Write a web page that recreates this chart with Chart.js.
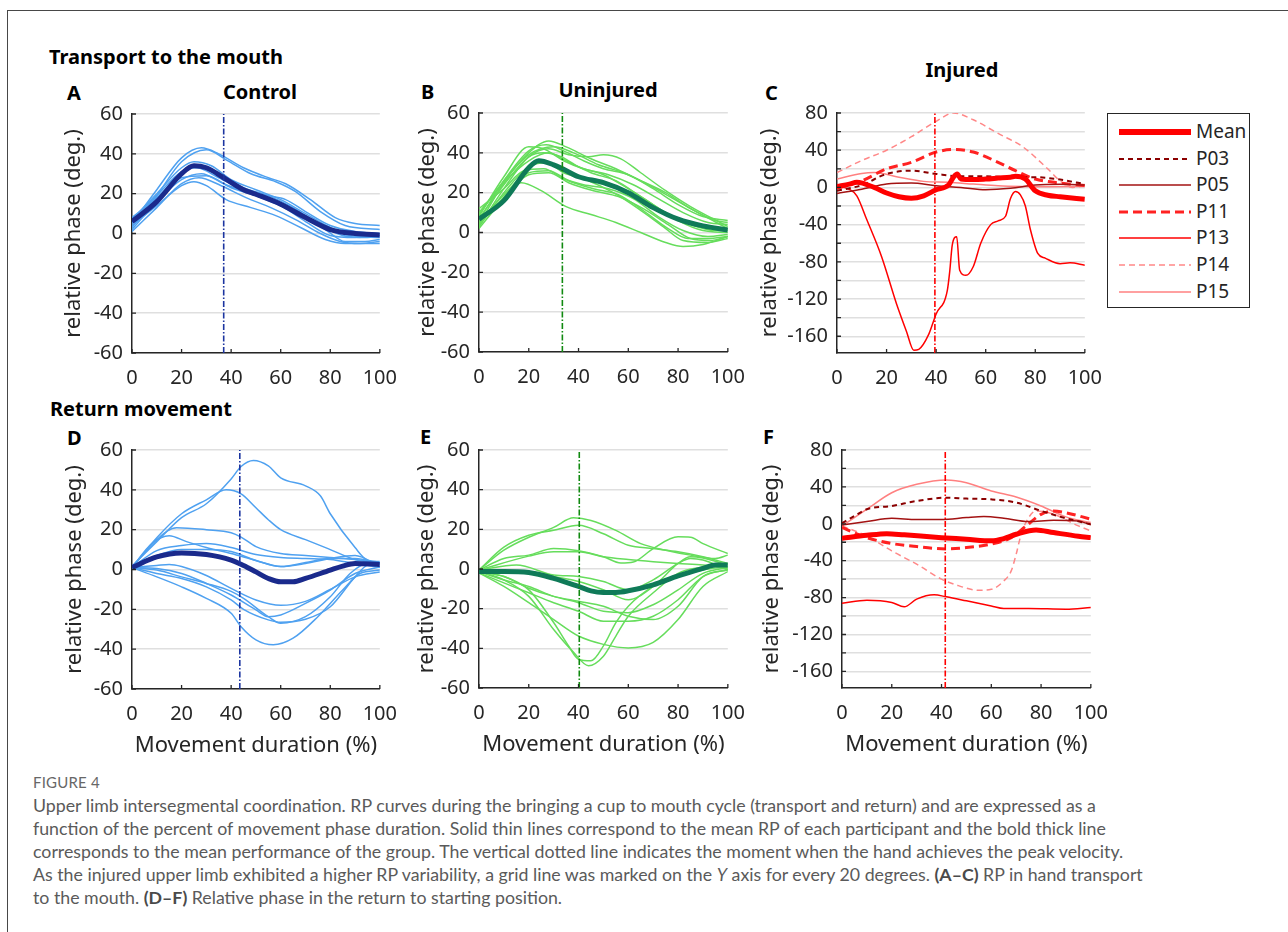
<!DOCTYPE html>
<html>
<head>
<meta charset="utf-8">
<script src="https://cdn.jsdelivr.net/npm/chart.js@4.4.1/dist/chart.umd.min.js"></script>
<style>
  body { margin: 0; width: 1288px; height: 932px; overflow: hidden; position: relative; background: #fff; font-family: "Noto Sans", "DejaVu Sans", sans-serif; }
  .frame { position: absolute; left: 7px; top: 10px; width: 1400px; height: 1000px; border-left: 1.5px solid #474747; border-top: 1.5px solid #474747; }
  canvas { position: absolute; }
  .bold { position: absolute; font-weight: bold; font-size: 20px; color: #000; white-space: nowrap; line-height: 24px; transform: translateY(-50%); }
  .center { transform: translate(-50%, -50%); }
  #legend { position: absolute; left: 1107px; top: 113px; width: 141px; height: 193px; border: 1.5px solid #262626; background: #fff; }
  #legend .row { position: absolute; left: 0; height: 24px; width: 141px; }
  #legend svg { position: absolute; left: 10px; top: 0; }
  #legend span { position: absolute; left: 88px; top: -1px; font-size: 19px; line-height: 24px; color: #262626; }
  #figno { position: absolute; left: 33px; top: 774px; font-family: Lato, "Open Sans", sans-serif; font-size: 15px; line-height: 16px; color: #676767; letter-spacing: 0.2px; }
  #caption { position: absolute; left: 33px; top: 794px; font-family: Lato, "Open Sans", sans-serif; font-size: 17.75px; line-height: 23.1px; color: #5a5a5a; white-space: nowrap; }
  #caption b { color: #4a4a4a; }
</style>
</head>
<body>
<div class="frame"></div>

<div class="bold" style="left:49px;top:57px;">Transport to the mouth</div>
<div class="bold" style="left:67px;top:93px;">A</div>
<div class="bold center" style="left:260px;top:92px;">Control</div>
<div class="bold" style="left:421px;top:92px;">B</div>
<div class="bold center" style="left:608px;top:90px;">Uninjured</div>
<div class="bold center" style="left:962px;top:70px;">Injured</div>
<div class="bold" style="left:765px;top:93px;">C</div>
<div class="bold" style="left:50px;top:409px;">Return movement</div>
<div class="bold" style="left:67px;top:438px;">D</div>
<div class="bold" style="left:420px;top:437px;">E</div>
<div class="bold" style="left:763px;top:437px;">F</div>

<canvas id="cA"></canvas>
<canvas id="cB"></canvas>
<canvas id="cC"></canvas>
<canvas id="cD"></canvas>
<canvas id="cE"></canvas>
<canvas id="cF"></canvas>

<div id="legend"></div>

<div id="figno">FIGURE 4</div>
<div id="caption">
<div>Upper limb intersegmental coordination. RP curves during the bringing a cup to mouth cycle (transport and return) and are expressed as a</div>
<div>function of the percent of movement phase duration. Solid thin lines correspond to the mean RP of each participant and the bold thick line</div>
<div>corresponds to the mean performance of the group. The vertical dotted line indicates the moment when the hand achieves the peak velocity.</div>
<div>As the injured upper limb exhibited a higher RP variability, a grid line was marked on the <i>Y</i> axis for every 20 degrees. <b>(A–C)</b> RP in hand transport</div>
<div>to the mouth. <b>(D–F)</b> Relative phase in the return to starting position.</div>
</div>

<script>
// ---- data: [movement %, relative phase deg] pairs ----
const xTicks = [0, 20, 40, 60, 80, 100];
const peakVelocity = [37, 33.5, 39.5, 43.5, 40.3, 41.5]; // A..F, x of vertical line

const controlTransportMean = [[0,6],[10,16],[20,30],[25,34],[30,33],[37,28],[45,22],[50,19.7],[60,14.7],[70,8],[80,2],[90,0],[100,-0.7]];
const controlTransport = [
  [[0,5],[10,22],[20,38],[28,43],[35,40],[45,33],[55,28],[62,25],[72,17],[82,8],[90,5],[100,4]],
  [[0,3],[10,19],[20,36],[30,42],[38,37],[48,30],[58,26],[66,21],[76,11],[86,4],[100,2]],
  [[0,7],[10,20],[20,33],[25,36],[32,34],[40,27],[50,22],[60,17],[70,10],[80,3],[88,-1],[100,-2]],
  [[0,8],[10,18],[20,30],[27,34],[35,30],[45,23],[55,19],[65,13],[75,5],[85,-1],[95,-2],[100,-1]],
  [[0,2],[10,16],[20,27],[28,30],[37,25],[48,20],[58,15],[68,9],[78,2],[86,-4],[94,-4],[100,-3]],
  [[0,1],[10,13],[20,25],[27,28],[36,24],[46,18],[56,13],[66,7],[76,0],[84,-4],[92,-5],[100,-4]],
  [[0,4],[10,14],[20,24],[25,26],[30,24],[38,17],[48,13],[58,9],[68,3],[78,-3],[86,-5],[100,-5]],
  [[0,6],[10,17],[20,28],[30,29],[40,23],[50,19],[60,14],[70,6],[80,-1],[90,-2],[100,-1]],
  [[0,7],[10,19],[20,31],[26,33],[35,28],[45,22],[55,19],[62,17],[70,11],[80,4],[90,1],[100,0]]
];

const uninjuredTransportMean = [[0,6.7],[10,16],[20,32.5],[24,36],[30,34],[34,31.7],[40,28],[50,25],[60,20],[70,12.5],[80,6.7],[90,3.3],[100,1.3]];
const uninjuredTransport = [
  [[0,4],[10,25],[20,40],[28,46],[35,43],[45,37],[55,32],[65,26],[75,20],[85,12],[95,6],[100,5]],
  [[0,6],[10,26],[20,41],[27,44],[34,41],[42,36],[50,32],[60,29],[70,22],[80,14],[90,8],[100,6]],
  [[0,3],[10,22],[20,38],[28,42],[36,39],[44,38],[50,39],[57,37],[65,30],[75,21],[85,13],[100,3]],
  [[0,8],[10,28],[20,43],[26,42],[34,36],[42,32],[52,29],[62,24],[72,17],[82,10],[92,5],[100,4]],
  [[0,10],[10,25],[20,36],[28,40],[35,36],[45,30],[55,26],[65,18],[75,10],[85,4],[95,1],[100,1]],
  [[0,12],[10,22],[18,31],[26,32],[34,27],[42,24],[52,22],[62,17],[72,8],[82,1],[92,-2],[100,-1]],
  [[0,5],[10,19],[20,30],[28,31],[36,26],[46,22],[56,19],[66,11],[76,2],[84,-3],[92,-3],[100,-2]],
  [[0,2],[10,17],[20,29],[28,30],[36,25],[46,21],[56,18],[66,12],[76,4],[85,-3],[93,-4],[100,-2]],
  [[0,4],[8,15],[17,25],[25,21],[35,13],[45,9],[55,5],[65,0],[75,-5],[82,-7],[90,-6],[100,-2]],
  [[0,7],[10,24],[20,38],[26,40],[33,38],[40,33],[50,29],[60,22],[70,14],[80,6],[90,1],[100,0]],
  [[0,9],[10,26],[20,39],[30,43],[38,40],[48,34],[58,30],[68,24],[78,17],[88,10],[100,2]],
  [[0,3],[10,20],[20,33],[27,35],[34,30],[44,26],[54,20],[64,12],[74,3],[82,-4],[92,-5],[100,-3]]
];

// injured: Mean, P03, P05, P11, P13, P14, P15
const injuredLabels = ['Mean', 'P03', 'P05', 'P11', 'P13', 'P14', 'P15'];
const injuredTransport = [
  [[0,1],[5,3.6],[8,5.5],[15,0],[20,-6],[25,-10],[30,-11.6],[35,-9],[40,-2.5],[45,2.5],[47,11],[48.5,14.5],[50,9],[55,8.4],[60,9],[65,10],[70,11],[72,12],[76,9],[80,-3.6],[85,-8.4],[90,-10],[100,-12.7]],
  [[0,-3.6],[10,2.5],[20,14.5],[30,18],[40,14.5],[50,12],[60,12],[70,11],[80,11],[90,8.4],[100,3.6]],
  [[0,-6.5],[10,-2],[20,3.6],[30,4.7],[40,1.8],[50,0],[60,-2.5],[70,-1],[80,2.5],[90,3.3],[100,2.5]],
  [[0,-1],[10,7],[20,20],[30,27],[40,38],[47,40.7],[55,38],[65,27],[72,18],[80,9],[90,4.7],[100,2]],
  [[0,1],[5,-2],[8,-9],[12,-34.5],[18,-74.5],[24,-125],[28,-154.5],[31,-175],[33,-174],[37,-158],[40,-136],[44.5,-111],[45.5,-90],[46.5,-62],[48.3,-53],[49.5,-89],[52,-94.5],[55,-85],[58,-60],[62,-40],[65,-36],[68,-31],[70,-12],[72,-4.5],[74,-8],[76,-20],[78,-45],[81,-71],[84,-76],[90,-82],[94,-81],[100,-83.6]],
  [[0,16],[10,29],[20,40],[30,54.5],[40,71],[47,80],[55,72.7],[65,58],[75,43.6],[85,20],[90,7],[95,0],[100,2]],
  [[0,9],[10,15],[15,16],[25,11],[35,6.5],[45,5.5],[55,3.6],[65,1.8],[75,1],[85,0.7],[100,1]]
];

const controlReturnMean = [[0,1],[10,6.3],[20,8.3],[30,7.5],[40,4.7],[45,2],[50,-1.2],[55,-4.5],[60,-6.2],[65,-6.2],[70,-4.5],[80,-0.3],[85,1.7],[90,3],[100,2.5]];
const controlReturn = [
  [[0,1.7],[10,14],[20,26],[30,33],[40,45.5],[44,51.7],[49,54.7],[55,52],[60,46],[70,42],[76,37],[80,28],[90,11],[95,4.7],[100,4]],
  [[0,1],[10,16],[20,28],[30,35],[38,40],[44,38],[50,31],[55,25],[60,20],[70,15],[80,10],[90,5],[100,3.5]],
  [[0,1],[10,15],[18,21],[30,20],[40,18.5],[44,16.3],[50,11.5],[60,8],[70,7],[80,6],[90,5],[100,3]],
  [[0,1],[8,13],[15,17],[22,14],[30,11],[40,8],[50,4.5],[60,1.5],[70,3],[80,5.5],[90,7],[100,1.5]],
  [[0,1],[10,9.5],[20,12],[30,13],[40,11],[50,7.5],[60,6],[70,5.5],[80,5],[90,3],[100,1]],
  [[0,1.5],[10,7],[20,10],[30,10],[40,9],[50,4.5],[60,1.5],[70,3.5],[80,5.5],[90,5.5],[100,3]],
  [[0,1],[10,2],[15,2.5],[20,1.5],[30,-3],[40,-9.5],[50,-15.3],[60,-18],[70,-16],[80,-10],[90,-3.7],[100,-1.2]],
  [[0,1],[10,0.5],[20,-2],[30,-7],[40,-12.8],[50,-20.3],[55,-23.7],[60,-22.8],[70,-17],[80,-10.3],[90,-2],[100,1.3]],
  [[0,1],[10,-0.3],[20,-3.7],[30,-7],[40,-11],[45,-14.5],[55,-23.7],[60,-27],[70,-23.7],[80,-13.7],[88,-2],[95,3],[100,2.5]],
  [[0,1],[10,-2],[20,-4.5],[30,-8.7],[40,-15.3],[45,-20],[55,-25.3],[60,-26.5],[70,-25],[80,-18.7],[90,-3.7],[95,2.2],[100,3]],
  [[0,1],[10,-3.7],[20,-8.7],[30,-14.5],[40,-22],[44,-28.7],[50,-35.3],[57,-37.8],[65,-34.5],[75,-23.7],[85,-10.3],[92,-2],[100,-0.3]]
];

const uninjuredReturnMean = [[0,-1.3],[10,-1.3],[20,-1.8],[30,-4.7],[40,-8.8],[45,-11],[50,-11.8],[55,-11.8],[60,-11],[70,-8],[80,-3.5],[90,0.3],[95,2],[100,2]];
const uninjuredReturn = [
  [[0,-0.5],[10,9.5],[20,16],[30,21],[38,25.8],[45,24.5],[55,19.5],[65,12.8],[75,9.5],[85,7],[95,5.3],[100,7]],
  [[0,-0.5],[10,11],[20,17],[30,19.5],[40,22],[50,17.8],[60,12],[70,10.3],[80,8.7],[90,6.2],[100,2.8]],
  [[0,-0.5],[10,5.3],[20,7],[30,10.3],[40,9.2],[50,6.2],[57,3],[62,3.5],[70,10.3],[80,16.2],[85,16],[90,12.8],[100,7.8]],
  [[0,-0.5],[20,6.5],[30,8.7],[40,8.7],[50,6.2],[60,4.8],[70,3.7],[80,2.8],[90,2],[100,0.3]],
  [[0,-0.5],[15,2],[30,-3],[40,-3.8],[50,-6.3],[60,-10.5],[70,-5.5],[80,2.8],[85,5.3],[90,4.5],[100,-0.5]],
  [[0,-1.3],[10,-5.5],[20,-8.8],[30,-13.8],[40,-17],[50,-21.3],[60,-22],[70,-18],[80,-10.5],[90,-2.2],[100,0.8]],
  [[0,-1.3],[10,-3.8],[20,-9.7],[30,-13.8],[40,-16.3],[50,-18.8],[60,-23.8],[70,-25.5],[80,-18.8],[90,-3.8],[100,-0.5]],
  [[0,-2],[10,-7],[20,-12],[30,-17],[40,-21.3],[50,-26.3],[60,-26.3],[70,-23.8],[80,-15.5],[90,-3.8],[100,-0.2]],
  [[0,-2],[10,-8.8],[20,-17],[30,-25.5],[40,-33.8],[50,-38],[60,-39.8],[70,-37],[80,-25.5],[90,-8.8],[100,-1.3]],
  [[0,-1.3],[10,-3.8],[20,-10.5],[30,-27],[36,-38.8],[40,-45.5],[45,-46.3],[50,-38.8],[55,-27],[60,-18.8],[70,-8.8],[80,-3.8],[90,-0.5],[100,1.2]],
  [[0,-1.3],[10,-5.5],[20,-13.8],[30,-30.5],[38,-42],[44,-48.8],[50,-44],[55,-33.8],[60,-23.8],[70,-12],[80,-2.2],[90,1],[100,2.8]],
  [[0,-0.5],[20,-1.3],[30,-3.8],[40,-6.3],[50,-10.5],[60,-15.5],[70,-8.8],[80,2.8],[85,6.2],[90,5.5],[100,2]]
];

const injuredReturn = [
  [[0,-15.7],[10,-12.5],[18,-10.7],[25,-12],[40,-15],[50,-16.7],[60,-18.5],[65,-16],[70,-11.3],[78,-6.6],[85,-9.5],[95,-13.5],[100,-15]],
  [[0,0.6],[5,8.5],[10,15.8],[20,19.3],[30,24.7],[42,28.3],[50,27.3],[60,26.5],[70,23],[80,14],[90,6],[100,-0.5]],
  [[0,-1.2],[10,2.4],[20,6],[30,4.6],[40,4.6],[50,6.7],[57,7.8],[65,6],[75,2.4],[85,3.8],[95,3],[100,-1.2]],
  [[0,-4],[10,-15],[20,-21.4],[30,-24.7],[42,-27.2],[50,-25.8],[60,-22],[68,-15],[74,-2.3],[80,10.3],[85,13.9],[90,12],[100,5]],
  [[0,-86],[10,-82.8],[20,-85.3],[25,-90],[30,-81.7],[37,-77],[42,-79.2],[50,-83.5],[60,-89],[65,-91.8],[75,-91.8],[90,-92.5],[100,-90.7]],
  [[0,-2.3],[10,-13.2],[20,-29.4],[30,-43.8],[40,-60],[45,-65.4],[55,-72],[60,-71],[65,-62],[68,-51],[70,-33],[72,-11.3],[75,6.7],[78,14],[85,10.3],[95,-2.3],[100,-7.7]],
  [[0,-2.3],[10,15.8],[20,33.7],[30,42.8],[42,47.5],[50,44.6],[60,35.6],[70,29],[80,19.3],[90,7.5],[100,1.3]]
];

// ---- styles ----
const fontFamily = '"Noto Sans", "DejaVu Sans", sans-serif';
const tickSize = 20, titleSize = 22;
const axisColor = '#262626';
const gridColor = '#dfdfdf';
const controlThin = '#4fa1f0', controlMean = '#1a2a8c', controlMark = '#1c35a0';
const uninjThin = '#66dd5c', uninjMean = '#0f7a58', uninjMark = '#108a10';
const injuredColors = ['#ff0000', '#8b0000', '#a31212', '#ff2222', '#ff0000', '#ff8888', '#ff8080'];
const injuredWidths = [5, 2, 1.5, 3, 1.5, 1.5, 1.5];
const injuredDashes = [[], [5, 4], [], [9, 5], [], [6, 4], []];

const toXY = pairs => pairs.map(p => ({ x: p[0], y: p[1] }));

function curve(pairs, color, width, dash, order) {
  return {
    data: toXY(pairs), borderColor: color, borderWidth: width, borderDash: dash || [],
    pointRadius: 0, cubicInterpolationMode: 'monotone', fill: false, order: order,
    borderJoinStyle: 'round'
  };
}

function markLine(x, yMin, yMax, color) {
  return {
    data: [{ x: x, y: yMin }, { x: x, y: yMax }], borderColor: color, borderWidth: 1.6,
    borderDash: [6, 2, 1.5, 2], pointRadius: 0, tension: 0, fill: false, order: 0
  };
}

// small inward tick marks like the original axes
const inwardTicks = {
  id: 'inwardTicks',
  afterDraw(chart) {
    const { ctx, chartArea, scales: { x, y } } = chart;
    ctx.save();
    ctx.strokeStyle = axisColor;
    ctx.lineWidth = 1.3;
    ctx.beginPath();
    x.ticks.forEach(t => {
      const px = x.getPixelForValue(t.value);
      ctx.moveTo(px, chartArea.bottom);
      ctx.lineTo(px, chartArea.bottom - 4);
    });
    y.ticks.forEach(t => {
      const py = y.getPixelForValue(t.value);
      ctx.moveTo(chartArea.left, py);
      ctx.lineTo(chartArea.left + 4, py);
    });
    ctx.stroke();
    ctx.restore();
  }
};

function makePanel(id, box, yMin, yMax, labelStep, titlePad, xTitle, datasets) {
  const [L, T, W, H] = box;
  const cv = document.getElementById(id);
  cv.width = W + 120;
  cv.height = H + 90;
  cv.style.left = (L - 100) + 'px';
  cv.style.top = (T - 20) + 'px';
  return new Chart(cv, {
    type: 'line',
    data: { datasets: datasets },
    plugins: [inwardTicks],
    options: {
      responsive: false,
      animation: false,
      devicePixelRatio: 1,
      layout: { padding: { top: 20, right: 20, left: 0, bottom: 0 } },
      plugins: { legend: { display: false }, tooltip: { enabled: false } },
      scales: {
        x: {
          type: 'linear', min: 0, max: 100,
          afterBuildTicks: s => { s.ticks = xTicks.map(v => ({ value: v })); },
          afterFit: s => { s.height = 70; },
          ticks: { autoSkip: false, maxRotation: 0, padding: 13, color: axisColor, font: { family: fontFamily, size: tickSize } },
          grid: { display: false, drawTicks: false },
          border: { display: true, color: axisColor, width: 1.5 },
          title: { display: xTitle, text: 'Movement duration (%)', color: axisColor, font: { family: fontFamily, size: titleSize }, padding: { top: 0, bottom: 0 } }
        },
        y: {
          type: 'linear', min: yMin, max: yMax,
          afterFit: s => { s.width = 100; },
          ticks: {
            stepSize: 20, includeBounds: false, autoSkip: false, padding: 9, color: axisColor,
            font: { family: fontFamily, size: tickSize },
            callback: v => (v % labelStep === 0 ? String(v) : '')
          },
          grid: { color: gridColor, lineWidth: 1.5, drawTicks: false },
          border: { display: true, color: axisColor, width: 1.5 },
          title: { display: true, text: 'relative phase (deg.)', color: axisColor, font: { family: fontFamily, size: titleSize }, padding: { top: titlePad, bottom: 0 } }
        }
      }
    }
  });
}

function groupSets(thinCurves, meanCurve, thinColor, meanColor, markColor, markX, yMin, yMax) {
  const sets = [markLine(markX, yMin, yMax, markColor), curve(meanCurve, meanColor, 5, [], 1)];
  thinCurves.forEach(c => sets.push(curve(c, thinColor, 1.5, [], 2)));
  return sets;
}

function injuredSets(curves, markX, yMin, yMax) {
  const sets = [markLine(markX, yMin, yMax, '#ff0000')];
  curves.forEach((c, i) => sets.push(curve(c, injuredColors[i], injuredWidths[i], injuredDashes[i], i === 0 ? 1 : 2)));
  return sets;
}

const injMin = -178, injMax = 80;

makePanel('cA', [132, 113, 258, 240], -60, 60, 20, 29, false,
  groupSets(controlTransport, controlTransportMean, controlThin, controlMean, controlMark, peakVelocity[0], -60, 60));
makePanel('cB', [479, 112, 259, 240], -60, 60, 20, 36, false,
  groupSets(uninjuredTransport, uninjuredTransportMean, uninjThin, uninjMean, uninjMark, peakVelocity[1], -60, 60));
makePanel('cC', [837, 112, 258, 241], injMin, injMax, 40, 19.5, false,
  injuredSets(injuredTransport, peakVelocity[2], injMin, injMax));
makePanel('cD', [132, 449, 258, 240], -60, 60, 20, 30, true,
  groupSets(controlReturn, controlReturnMean, controlThin, controlMean, controlMark, peakVelocity[3], -60, 60));
makePanel('cE', [479, 449, 259, 239], -60, 60, 20, 34.5, true,
  groupSets(uninjuredReturn, uninjuredReturnMean, uninjThin, uninjMean, uninjMark, peakVelocity[4], -60, 60));
makePanel('cF', [842, 449, 259, 239], injMin, injMax, 40, 16.5, true,
  injuredSets(injuredReturn, peakVelocity[5], injMin, injMax));

// legend box for the injured panels
const legend = document.getElementById('legend');
injuredLabels.forEach((lab, i) => {
  const row = document.createElement('div');
  row.className = 'row';
  row.style.top = (6 + i * 26.6) + 'px';
  const dash = injuredDashes[i].length ? ` stroke-dasharray="${injuredDashes[i].join(' ')}"` : '';
  row.innerHTML = `<svg width="76" height="24"><line x1="1" y1="12" x2="73" y2="12" stroke="${injuredColors[i]}" stroke-width="${injuredWidths[i] + (i === 0 ? 1 : 0)}"${dash}/></svg><span>${lab}</span>`;
  legend.appendChild(row);
});
</script>
</body>
</html>
